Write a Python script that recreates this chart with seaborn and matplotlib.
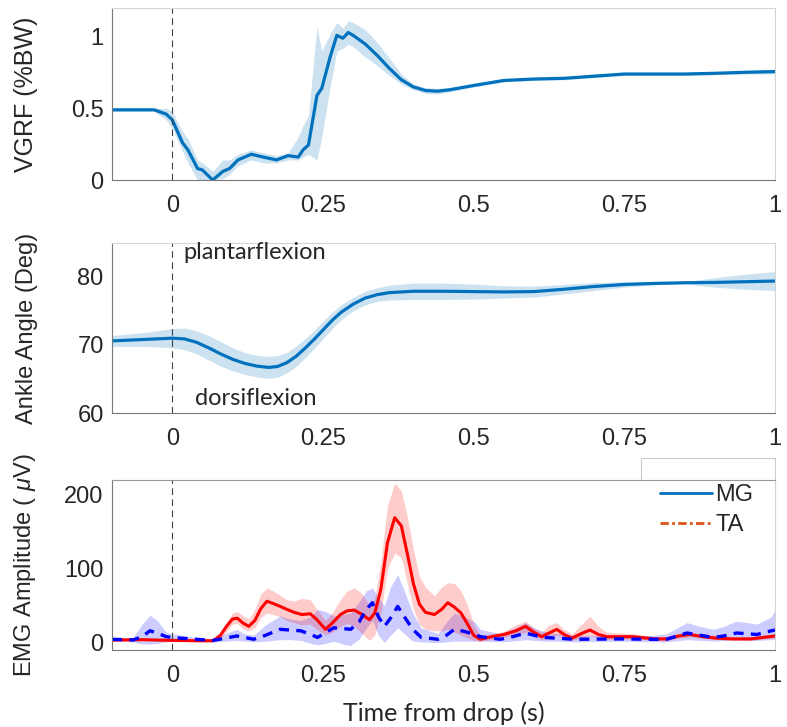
import numpy as np
import pandas as pd
import seaborn as sns
import matplotlib.pyplot as plt
from matplotlib.patches import Rectangle

# vertical ground reaction force (mean, lower/upper band)
vgrf_t = [-0.10, -0.03, -0.01, 0.0, 0.017, 0.026, 0.042, 0.05, 0.067, 0.084, 0.095,
          0.109, 0.131, 0.151, 0.173, 0.192, 0.209, 0.217, 0.226, 0.24, 0.248, 0.262,
          0.273, 0.283, 0.292, 0.30, 0.32, 0.34, 0.36, 0.38, 0.40, 0.42, 0.44, 0.46,
          0.50, 0.55, 0.60, 0.65, 0.70, 0.75, 0.85, 0.90, 0.95, 1.0]
vgrf_mean = [0.49, 0.49, 0.46, 0.42, 0.26, 0.21, 0.08, 0.07, 0.00, 0.06, 0.08,
             0.14, 0.18, 0.16, 0.14, 0.17, 0.16, 0.21, 0.245, 0.59, 0.64, 0.86,
             1.01, 0.99, 1.03, 1.01, 0.95, 0.87, 0.78, 0.70, 0.65, 0.625, 0.62, 0.63,
             0.66, 0.695, 0.705, 0.71, 0.725, 0.74, 0.74, 0.745, 0.752, 0.757]
vgrf_lo = [0.48, 0.48, 0.42, 0.36, 0.20, 0.12, 0.00, 0.00, 0.00, 0.01, 0.04,
           0.10, 0.14, 0.12, 0.12, 0.14, 0.14, 0.16, 0.18, 0.14, 0.30, 0.65,
           0.90, 0.92, 0.95, 0.93, 0.86, 0.80, 0.73, 0.67, 0.63, 0.605, 0.60, 0.615,
           0.65, 0.685, 0.695, 0.70, 0.715, 0.73, 0.73, 0.735, 0.74, 0.74]
vgrf_hi = [0.50, 0.50, 0.50, 0.48, 0.34, 0.29, 0.14, 0.12, 0.06, 0.14, 0.14,
           0.18, 0.21, 0.19, 0.17, 0.19, 0.30, 0.38, 0.45, 1.07, 0.90, 1.02,
           1.10, 1.06, 1.11, 1.10, 1.05, 0.96, 0.85, 0.74, 0.67, 0.645, 0.64, 0.645,
           0.67, 0.705, 0.715, 0.72, 0.735, 0.75, 0.75, 0.755, 0.765, 0.775]

# ankle angle (mean, half width of band)
ang_t = [-0.10, -0.05, 0.0, 0.02, 0.04, 0.06, 0.08, 0.10, 0.12, 0.14, 0.16, 0.175,
         0.19, 0.205, 0.22, 0.235, 0.25, 0.265, 0.28, 0.30, 0.32, 0.34, 0.36, 0.40,
         0.45, 0.50, 0.55, 0.60, 0.65, 0.70, 0.75, 0.80, 0.85, 0.90, 0.95, 1.0]
ang_mean = [70.6, 70.8, 71.0, 70.9, 70.4, 69.6, 68.7, 67.9, 67.3, 66.9, 66.7, 66.85,
            67.4, 68.3, 69.5, 70.8, 72.2, 73.6, 74.8, 76.0, 76.9, 77.4, 77.7, 77.9,
            77.9, 77.85, 77.8, 77.85, 78.2, 78.6, 78.9, 79.05, 79.15, 79.2, 79.3, 79.4]
ang_sd = [0.8, 1.0, 1.4, 1.6, 1.7, 1.8, 1.8, 1.7, 1.6, 1.6, 1.6, 1.6,
          1.5, 1.5, 1.4, 1.35, 1.3, 1.2, 1.1, 1.0, 1.0, 1.0, 1.1, 1.2,
          1.2, 1.1, 0.9, 0.8, 0.7, 0.6, 0.4, 0.2, 0.15, 0.7, 1.1, 1.4]

# EMG: TA (drawn red, solid) and MG (drawn blue, dashed)
ta_t = [-0.1, -0.05, 0.0, 0.04, 0.068, 0.08, 0.09, 0.1, 0.108, 0.118, 0.127, 0.137,
        0.147, 0.157, 0.167, 0.179, 0.19, 0.202, 0.215, 0.229, 0.24, 0.254, 0.265,
        0.279, 0.29, 0.302, 0.315, 0.327, 0.336, 0.346, 0.357, 0.369, 0.38, 0.39,
        0.4, 0.41, 0.42, 0.435, 0.447, 0.457, 0.468, 0.479, 0.49, 0.5, 0.511, 0.53,
        0.55, 0.57, 0.586, 0.6, 0.613, 0.625, 0.638, 0.65, 0.663, 0.678, 0.693,
        0.707, 0.721, 0.765, 0.8, 0.82, 0.84, 0.859, 0.88, 0.903, 0.93, 0.959,
        0.98, 1.0]
ta_mean = [3.5, 4, 3, 2.5, 2.5, 10, 22, 32, 33, 26, 22, 30,
           46, 56, 53, 49, 45, 41, 38, 39, 31, 18, 26,
           38, 43, 44, 38, 31, 40, 72, 135, 169, 158, 120,
           80, 52, 41, 38, 45, 54, 48, 40, 25, 10, 4.5, 8,
           11, 16, 22, 14, 8, 13, 18, 11, 6, 12, 17,
           11, 8, 8, 5, 5, 9, 11, 8, 6, 5, 5,
           7, 9]
ta_lo = [2, 2.5, 2, 1.5, 1.5, 6, 15, 25, 26, 18, 16, 20,
         34, 40, 38, 35, 30, 27, 24, 25, 18, 10, 14,
         22, 26, 22, 12, 3, 10, 40, 100, 121, 115, 80,
         45, 25, 18, 16, 16, 18, 14, 10, 6, 3, 2, 4,
         7, 10, 14, 8, 4, 8, 10, 6, 3, 6, 9,
         6, 4, 5, 3, 3, 6, 8, 6, 4, 3, 3,
         5, 6]
ta_hi = [5, 5.5, 4, 3.5, 4, 14, 28, 40, 42, 36, 32, 45,
         66, 74, 70, 64, 58, 56, 60, 58, 45, 30, 40,
         58, 70, 74, 66, 50, 60, 110, 185, 216, 205, 170,
         126, 90, 75, 63, 75, 81, 80, 70, 50, 25, 10, 12,
         15, 24, 29, 20, 14, 24, 27, 18, 12, 24, 36,
         22, 14, 12, 8, 8, 12, 14, 11, 10, 8, 8,
         10, 12]

mg_t = [-0.1, -0.08, -0.065, -0.05, -0.037, -0.025, -0.01, 0.0, 0.03, 0.068, 0.088,
        0.107, 0.12, 0.135, 0.155, 0.179, 0.195, 0.213, 0.23, 0.241, 0.255, 0.268,
        0.283, 0.296, 0.31, 0.322, 0.332, 0.342, 0.352, 0.362, 0.374, 0.385, 0.399,
        0.413, 0.441, 0.455, 0.468, 0.485, 0.502, 0.511, 0.544, 0.565, 0.586, 0.6,
        0.616, 0.64, 0.666, 0.743, 0.8, 0.82, 0.854, 0.875, 0.898, 0.915, 0.936,
        0.955, 0.97, 0.994, 1.0]
mg_mean = [4.5, 4, 3.6, 8, 16, 13, 8, 7, 5, 3, 6,
           9, 7, 4.5, 10, 18, 17, 16, 11, 7, 14, 20,
           19, 18, 28, 45, 54, 35, 22, 33, 49, 35, 18,
           7, 4.5, 10, 18, 15, 11, 8, 4.5, 8, 13, 10,
           7, 6, 4.5, 5, 4.5, 4.5, 13, 10, 7, 9, 13,
           12, 11, 16, 17]
mg_lo = [2, 1.5, 1, -2, -2, -1, 1, 2, 2, 1, 2,
         3, 2, 1, 2, 4, 4, 3, -1, -3, -1, 2,
         -2, -4, 5, 20, 30, 10, 0, 10, 20, 12, 2,
         1, 0, 1, 2, 2, 2, 2, 1, 2, 4, 3,
         2, 2, 1, 2, 1, 1, 4, 3, 2, 3, 4,
         3, 3, 4, 5]
mg_hi = [7, 6, 7, 25, 37, 30, 14, 12, 8, 5, 12,
         18, 12, 10, 24, 36, 32, 30, 35, 45, 42, 36,
         38, 40, 55, 70, 74, 60, 50, 75, 92, 70, 40,
         20, 12, 28, 40, 35, 28, 18, 12, 18, 27, 20,
         15, 12, 10, 9, 10, 12, 27, 22, 18, 22, 29,
         27, 25, 35, 45]

xticks = [0, 0.25, 0.5, 0.75, 1]
xticklabels = ["0", "0.25", "0.5", "0.75", "1"]

BLUE = "#0072BD"
ORANGE = "#D95319"

sns.set_style("white")
plt.rcParams["font.family"] = ["Liberation Sans", "DejaVu Sans"]
plt.rcParams["mathtext.fontset"] = "custom"
plt.rcParams["mathtext.it"] = "Liberation Sans:italic"

fig = plt.figure(figsize=(7.87, 7.27), dpi=100)
ax1 = fig.add_axes([0.1423, 0.7524, 0.8425, 0.2364])
ax2 = fig.add_axes([0.1423, 0.4319, 0.8425, 0.2339])
ax3 = fig.add_axes([0.1423, 0.1059, 0.8425, 0.2339])

# panel 1
d1 = pd.DataFrame({"t": vgrf_t, "m": vgrf_mean, "lo": vgrf_lo, "hi": vgrf_hi})
ax1.fill_between(d1["t"], d1["lo"], d1["hi"], color=BLUE, alpha=0.2, lw=0)
sns.lineplot(data=d1, x="t", y="m", ax=ax1, color=BLUE, lw=2.3)
ax1.set_ylim(0, 1.2)
ax1.set_yticks([0, 0.5, 1])
ax1.set_yticklabels(["0", "0.5", "1"])
ax1.set_ylabel("VGRF (%BW)", fontsize=18)

# panel 2
d2 = pd.DataFrame({"t": ang_t, "m": ang_mean, "sd": ang_sd})
ax2.fill_between(d2["t"], d2["m"] - d2["sd"], d2["m"] + d2["sd"], color=BLUE, alpha=0.2, lw=0)
sns.lineplot(data=d2, x="t", y="m", ax=ax2, color=BLUE, lw=2.3)
ax2.set_ylim(60, 85)
ax2.set_yticks([60, 70, 80])
ax2.set_ylabel("Ankle Angle (Deg)", fontsize=17)
ax2.text(0.018, 83.6, "plantarflexion", family="Lato", fontsize=17, va="center", ha="left")
ax2.text(0.038, 62.2, "dorsiflexion", family="Lato", fontsize=17, va="center", ha="left")

# panel 3
d3a = pd.DataFrame({"t": ta_t, "m": ta_mean, "lo": ta_lo, "hi": ta_hi})
d3b = pd.DataFrame({"t": mg_t, "m": mg_mean, "lo": mg_lo, "hi": mg_hi})
ax3.fill_between(d3b["t"], d3b["lo"], d3b["hi"], color="blue", alpha=0.2, lw=0)
ax3.fill_between(d3a["t"], d3a["lo"], d3a["hi"], color="red", alpha=0.2, lw=0)
sns.lineplot(data=d3a, x="t", y="m", ax=ax3, color="red", lw=2.2)
sns.lineplot(data=d3b, x="t", y="m", ax=ax3, color="blue", lw=2.4,
             linestyle=(0, (3, 2.2)))
ax3.set_ylim(-10, 220)
ax3.set_yticks([0, 100, 200])
ax3.set_ylabel(r"EMG Amplitude ( $\mu$V)", fontsize=17)
ax3.set_xlabel("Time from drop (s)", family="Lato", fontsize=18, labelpad=10)

# legend (colours/styles as in the original figure)
h1, = ax3.plot([], [], color=BLUE, lw=2, label="MG")
h2, = ax3.plot([], [], color=ORANGE, lw=2, ls=(0, (3, 1.2, 1, 1.2)), label="TA")
leg = fig.legend(handles=[h1, h2], loc="upper left",
                 bbox_to_anchor=(660 / 787, 1 - 484 / 727),
                 frameon=False, fontsize=17, handlelength=2.2,
                 handletextpad=0.15, borderpad=0, labelspacing=0.35, borderaxespad=0)
# legend box: partly hidden behind the axes, as in the original
fig.patches.append(Rectangle((641 / 787, 1 - 560 / 727), 134 / 787, 102 / 727,
                             transform=fig.transFigure, facecolor="white",
                             edgecolor="#cccccc", lw=0.8, zorder=-1))

for ax in (ax1, ax2, ax3):
    ax.axvline(0, color="#404040", lw=0.8, ls=(0, (6, 4)))
    ax.set_xlim(-0.1, 1)
    ax.set_xticks(xticks)
    ax.set_xticklabels(xticklabels)
    if ax is not ax3:
        ax.set_xlabel("")
    ax.tick_params(direction="in", length=4, width=0.8, color="#555555",
                   labelsize=17, labelcolor="#262626", pad=11)
    ax.tick_params(axis="y", pad=6)
    ax.yaxis.set_label_coords(-0.112, 0.5)
    ax.yaxis.label.set_color("#262626")
    for side in ("left", "bottom"):
        ax.spines[side].set_color("#777777")
        ax.spines[side].set_linewidth(0.8)
    for side in ("top", "right"):
        ax.spines[side].set_color("#d4d4d4")
        ax.spines[side].set_linewidth(0.8)
ax3.spines["top"].set_color("#999999")

fig.savefig("out.png", dpi=100)
